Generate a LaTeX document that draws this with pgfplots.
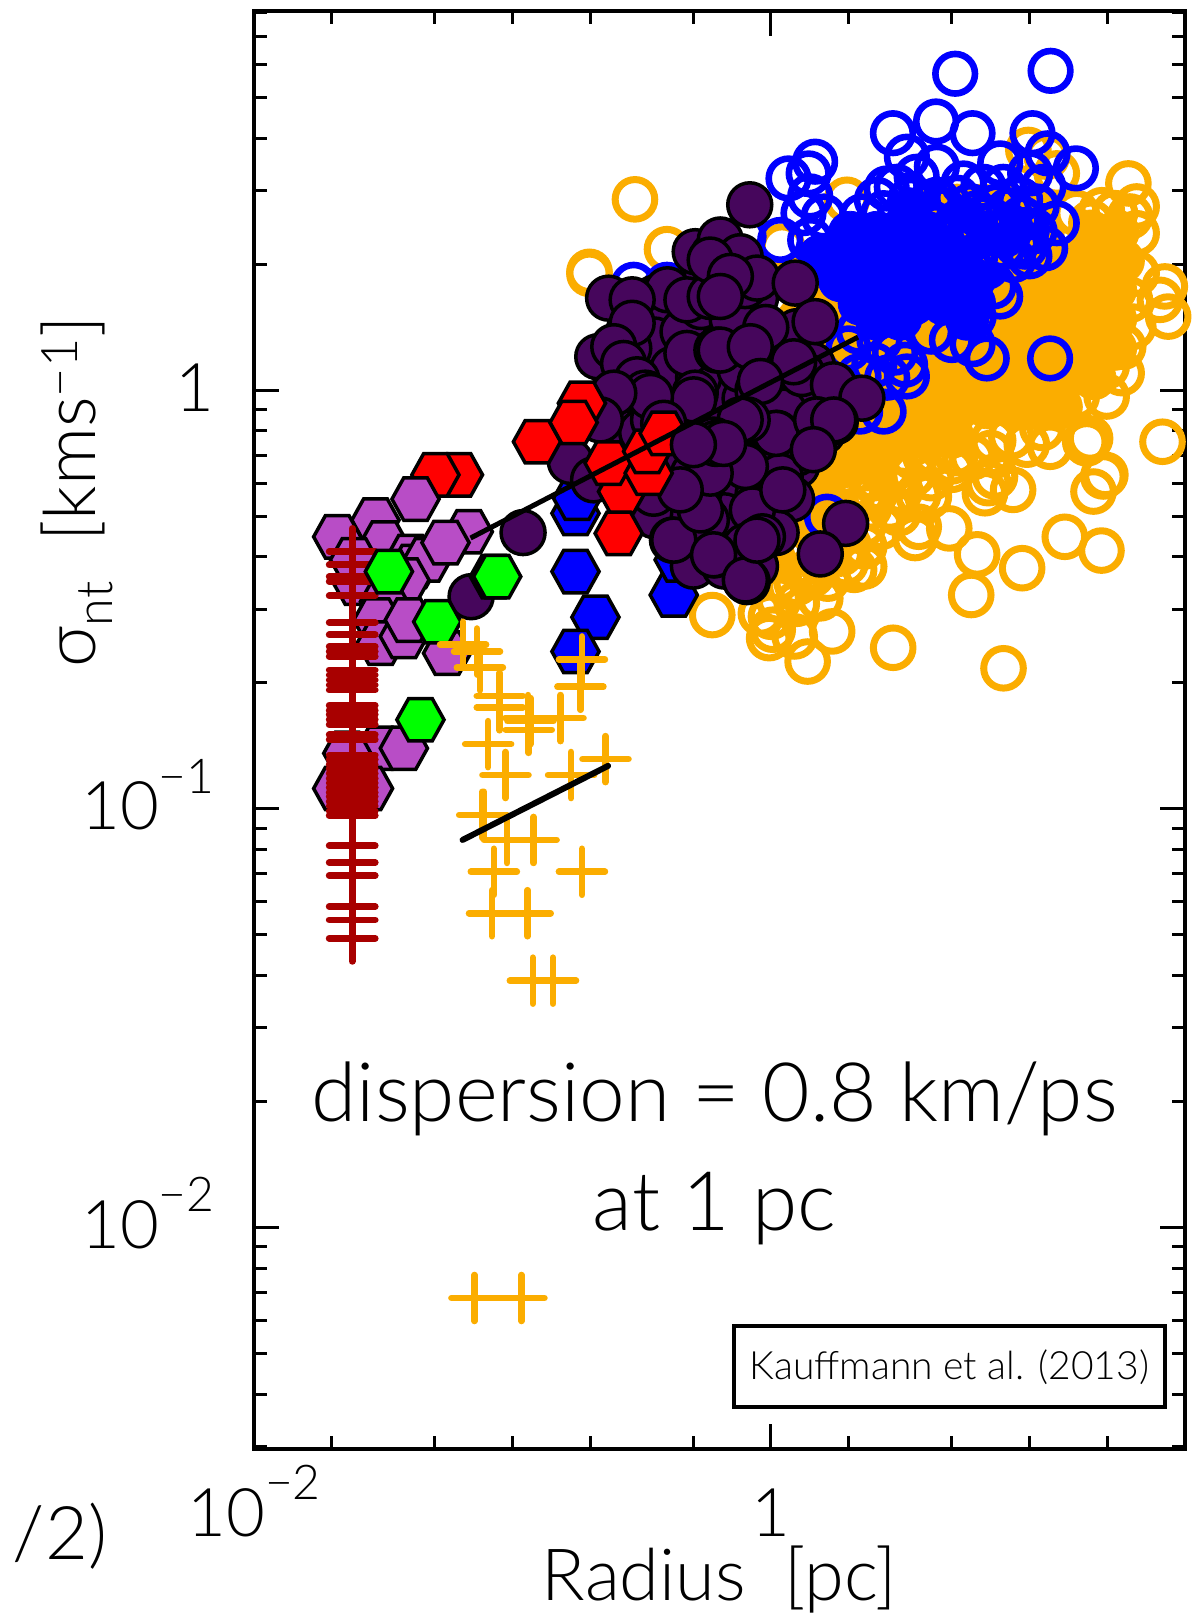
\documentclass[border=0pt]{standalone}
\usepackage{fontspec}
\usepackage{pgfplots}
\usepackage{pgfplotstable}
\pgfplotsset{compat=1.18}
\setmainfont{Lato}
\newfontfamily\lt{Lato Light}
\definecolor{orng}{HTML}{FBAD00}
\definecolor{dkp}{HTML}{46065C}
\definecolor{vio}{HTML}{B84DC6}
\definecolor{dkr}{HTML}{A80000}
\pgfdeclareplotmark{hex}{%
 \pgfpathmoveto{\pgfqpoint{11.8pt}{0pt}}%
 \pgfpathlineto{\pgfqpoint{5.9pt}{10.6pt}}%
 \pgfpathlineto{\pgfqpoint{-5.9pt}{10.6pt}}%
 \pgfpathlineto{\pgfqpoint{-11.8pt}{0pt}}%
 \pgfpathlineto{\pgfqpoint{-5.9pt}{-10.6pt}}%
 \pgfpathlineto{\pgfqpoint{5.9pt}{-10.6pt}}%
 \pgfpathclose\pgfusepathqfillstroke}
% all tables: log10(Radius/pc)  log10(sigma/(km/s))
\pgfplotstableread[row sep=\\]{lr ls\\
.62 .44\\.72 .44\\.82 .44\\.92 .44\\1.02 .44\\
.55 .378\\.65 .378\\.75 .378\\.85 .378\\.95 .378\\1.05 .378\\1.235 .378\\1.34 .378\\
.42 .309\\.53 .309\\.64 .309\\.75 .309\\.86 .309\\.97 .309\\1.08 .309\\1.19 .309\\1.30 .309\\1.36 .309\\
.23 .24\\.34 .24\\.45 .24\\.56 .24\\.67 .24\\.78 .24\\.89 .24\\1.00 .24\\1.11 .24\\1.22 .24\\1.33 .24\\
.11 .17\\.22 .17\\.33 .17\\.44 .17\\.55 .17\\.66 .17\\.77 .17\\.88 .17\\.99 .17\\1.10 .17\\1.21 .17\\1.33 .17\\
.17 .10\\.28 .10\\.39 .10\\.50 .10\\.61 .10\\.72 .10\\.83 .10\\.94 .10\\1.05 .10\\1.16 .10\\1.27 .10\\1.33 .10\\
.15 .03\\.26 .03\\.37 .03\\.48 .03\\.59 .03\\.70 .03\\.81 .03\\.92 .03\\1.03 .03\\1.14 .03\\1.25 .03\\
.07 -.04\\.18 -.04\\.29 -.04\\.40 -.04\\.51 -.04\\.62 -.04\\.73 -.04\\.84 -.04\\.95 -.04\\1.06 -.04\\1.12 -.04\\
.04 -.11\\.15 -.11\\.26 -.11\\.37 -.11\\.48 -.11\\.59 -.11\\.70 -.11\\
.07 -.18\\.18 -.18\\.29 -.18\\.40 -.18\\
0 -.25\\.11 -.25\\.20 -.25\\
0 -.32\\.09 -.32\\
0 -.39\\
}\orangecore
\pgfplotstableread[row sep=\\]{lr ls\\
-.526 .456\\-.402 .337\\-.702 .283\\-.702 .278\\
1.383 .494\\.996 .574\\1.067 .558\\1.106 .518\\.294 .455\\.043 .343\\1.331 .423\\1.415 .439\\1.389 .415\\1.415 .375\\1.183 .423\\1.28 .43\\1.24 .40\\
1.524 .248\\1.505 .216\\1.537 .176\\1.357 .041\\1.299 -.015\\1.235 -.115\\1.222 -.127\\1.080 -.135\\1.286 -.206\\1.389 .216\\1.415 .279\\1.402 .152\\1.363 .104\\1.299 .057\\1.183 -.015\\
1.515 -.123\\1.216 -.123\\1.294 -.202\\1.248 -.242\\1.137 -.350\\1.279 -.383\\.972 -.425\\.798 -.392\\.775 -.489\\.937 -.238\\.867 -.206\\.828 -.246\\.841 -.222\\.690 -.330\\.611 -.254\\.558 -.353\\.572 -.326\\.493 -.294\\.427 -.326\\.361 -.421\\.289 -.413\\.322 -.429\\.361 -.373\\.191 -.497\\.237 -.576\\.473 -.615\\.900 -.664\\.142 -.648\\0 -.541\\-.039 -.533\\-.007 -.592\\.007 -.572\\.092 -.588\\-.227 -.537\\.072 -.469\\.138 -.437\\.716 -.150\\.598 -.158\\.493 -.206\\.388 -.246\\.256 -.294\\
.86 -.12\\.93 -.11\\.99 -.13\\1.05 -.09\\
.55 -.16\\.63 -.15\\.70 -.17\\.78 -.16\\.85 -.15\\
.40 -.21\\.47 -.19\\.55 -.20\\.62 -.21\\.70 -.19\\
.25 -.24\\.32 -.23\\.40 -.25\\.50 -.24\\.57 -.25\\
.15 -.28\\.22 -.27\\.30 -.29\\.38 -.28\\.46 -.28\\
.12 -.32\\.20 -.33\\.28 -.31\\.36 -.32\\
.08 -.36\\.15 -.37\\.22 -.35\\.30 -.37\\
.05 -.40\\.12 -.41\\.20 -.40\\.27 -.39\\
.03 -.45\\.10 -.46\\.16 -.44\\.22 -.45\\
.03 -.50\\.10 -.51\\
}\orangering
\pgfplotstableread[row sep=\\]{lr ls\\
.539 .431\\
.307 .375\\.410 .375\\.513 .375\\.603 .375\\
.191 .319\\.294 .319\\.397 .319\\.500 .319\\.603 .319\\.706 .319\\
.268 .264\\.371 .264\\.474 .264\\.577 .264\\.680 .264\\.784 .264\\
.345 .208\\.448 .208\\.552 .208\\.668 .208\\.784 .208\\
.410 .172\\.500 .172\\.758 .172\\
}\bluecore
\pgfplotstableread[row sep=\\]{lr ls\\
.713 .756\\1.082 .763\\.639 .642\\.472 .614\\.780 .614\\1.012 .614\\1.070 .566\\1.180 .530\\.887 .542\\.171 .546\\.068 .506\\.146 .518\\.126 .423\\.152 .463\\.352 .415\\.448 .482\\.526 .558\\.642 .534\\1.003 .518\\1.054 .486\\1.106 .399\\1.061 .339\\.983 .343\\.835 .076\\1.080 .076\\.519 .061\\.526 .033\\.436 -.051\\.345 -.051\\.339 .033\\.887 .224\\.784 .176\\.036 .359\\-.106 .367\\.564 .510\\.745 .494\\.822 .486\\.899 .486\\.964 .455\\1.028 .439\\.874 .439\\.796 .423\\.925 .391\\.719 .399\\.642 .455\\.487 .486\\.539 .455\\.410 .455\\.436 .423\\.848 .375\\.771 .359\\.693 .327\\.990 .383\\.899 .343\\.938 .311\\.835 .295\\.745 .264\\.861 .248\\.204 .415\\.152 .359\\-.531 .252\\-.402 .252\\.217 -.302\\
.62 .40\\.67 .43\\.72 .46\\.77 .44\\.82 .41\\.87 .40\\.92 .43\\.97 .41\\1.02 .38\\.66 .36\\.72 .34\\.79 .32\\.85 .33\\.90 .37\\.95 .35\\1.00 .32\\.64 .39\\.58 .42\\.74 .38\\.80 .37\\.40 .06\\.45 .03\\.30 .10\\.48 .09\\.34 .14\\.42 .12\\.62 .14\\.70 .12\\.78 .11\\
}\bluering
\pgfplotstableread[row sep=\\]{lr ls\\
-.756 -.294\\-.750 -.258\\-.756 -.433\\-.679 -.542\\-.756 -.624\\-.376 -.489\\-.357 -.405\\
}\bluehex
\pgfplotstableread[row sep=\\]{lr ls\\
-.45 .22\\-.32 .22\\-.19 .22\\-.06 .22\\
-.55 .14\\-.42 .14\\-.29 .14\\-.16 .14\\-.03 .14\\.10 .14\\
-.62 .06\\-.49 .06\\-.36 .06\\-.23 .06\\-.10 .06\\.03 .06\\.16 .06\\
-.62 -.02\\-.49 -.02\\-.36 -.02\\-.23 -.02\\-.10 -.02\\.03 -.02\\.16 -.02\\.28 -.02\\
-.58 -.10\\-.45 -.10\\-.32 -.10\\-.19 -.10\\-.06 -.10\\.07 -.10\\.20 -.10\\
-.55 -.18\\-.42 -.18\\-.29 -.18\\-.16 -.18\\-.03 -.18\\.10 -.18\\
-.42 -.26\\-.29 -.26\\-.16 -.26\\-.03 -.26\\.08 -.26\\
-.35 -.34\\-.22 -.34\\-.09 -.34\\.02 -.34\\
-.30 -.42\\-.18 -.42\\-.06 -.42\\
-.42 .19\\-.45 .12\\-.38 .05\\-.34 .14\\-.27 .20\\-.28 .03\\-.15 .17\\-.12 .05\\-.30 -.10\\-.05 .00\\-.40 -.05\\-.35 -.15\\-.15 -.20\\-.30 -.20\\-.05 -.25\\.10 -.15\\.05 -.05\\.12 .04\\-.02 .15\\-.10 .25\\-.25 .28\\-.40 .24\\-.55 .10\\-.50 -.10\\-.45 -.30\\-.30 -.30\\-.18 -.30\\
-.293 .331\\-.222 .323\\-.628 .220\\-.537 .216\\-.537 .160\\-.325 .216\\-.235 .224\\-.670 .080\\-.608 .104\\-.570 .064\\-.518 .025\\-.486 -.007\\-.325 .088\\-.209 .096\\-.293 -.007\\-.196 -.135\\-.454 -.071\\
-.082 .443\\-.196 .359\\-.119 .319\\-.235 .311\\-.054 .268\\-.157 .272\\.094 .256\\-.196 .224\\.171 .164\\.088 .068\\-.196 .096\\-.080 .104\\-.041 .021\\.242 .013\\.352 -.019\\.178 -.071\\.249 -.075\\.023 -.103\\-.093 -.075\\-.183 -.135\\.165 -.135\\-.067 -.182\\.036 -.206\\
.289 -.318\\.191 -.391\\-.092 -.457\\-.217 -.393\\-.072 -.286\\-.276 -.238\\-.197 -.154\\-.099 -.182\\.046 -.238\\.020 -.103\\.177 -.071\\.243 -.071\\-.033 -.350\\-.250 -.310\\-.381 -.358\\-.099 -.373\\.164 -.142\\-.092 -.071\\
-.959 -.340\\-1.160 -.493\\-.776 -.170\\-.686 -.214\\-.376 -.358\\-.222 -.393\\-.099 -.453\\-.273 -.286\\-.299 -.023\\-.466 -.015\\-.415 -.079\\-.235 -.198\\-.454 -.246\\-.351 -.238\\-.608 -.007\\-.660 -.071\\-.119 -.071\\-.054 -.358\\
}\darkdisk
\pgfplotstableread[row sep=\\]{lr ls\\
-.222 -.119\\-.213 -.127\\-.183 -.127\\-.30 -.13\\
}\darktop
\pgfplotstableread[row sep=\\]{lr ls\\
-1.207 -.202\\-1.298 -.202\\-.905 -.123\\-.731 -.031\\-.763 -.077\\-.576 -.242\\-.628 -.174\\-.473 -.198\\-.479 -.146\\-.415 -.103\\-.589 -.342\\
}\redhex
\pgfplotstableread[row sep=\\]{lr ls\\
-1.478 -.433\\-1.072 -.445\\-1.059 -.445\\-1.291 -.553\\-1.356 -.787\\
}\greenhex
\pgfplotstableread[row sep=\\]{lr ls\\
-1.375 -.260\\-1.530 -.310\\-1.678 -.350\\-1.169 -.338\\-1.497 -.365\\-1.394 -.397\\-1.381 -.421\\-1.330 -.405\\-1.414 -.453\\-1.601 -.461\\-1.613 -.405\\-1.259 -.364\\-1.497 -.505\\-1.523 -.549\\-1.510 -.604\\-1.420 -.588\\-1.401 -.549\\-1.253 -.628\\
-1.510 -.855\\-1.420 -.855\\-1.639 -.867\\-1.678 -.951\\-1.555 -.951\\
}\violethex
\pgfplotstableread[row sep=\\]{lr ls\\
-1.62 -.385\\-1.62 -.417\\-1.62 -.445\\-1.62 -.457\\-1.62 -.491\\-1.62 -.555\\-1.62 -.584\\-1.62 -.612\\-1.62 -.624\\-1.62 -.636\\-1.62 -.668\\-1.62 -.680\\-1.62 -.692\\-1.62 -.704\\-1.62 -.716\\-1.62 -.752\\-1.62 -.764\\-1.62 -.775\\-1.62 -.787\\-1.62 -.799\\-1.62 -.823\\-1.62 -.835\\-1.62 -.871\\-1.62 -.882\\-1.62 -.893\\-1.62 -.904\\-1.62 -.915\\-1.62 -.927\\-1.62 -.938\\-1.62 -.949\\-1.62 -.960\\-1.62 -.971\\-1.62 -.982\\-1.62 -.993\\-1.62 -1.005\\-1.62 -1.016\\-1.62 -1.088\\-1.62 -1.128\\-1.62 -1.159\\-1.62 -1.233\\-1.62 -1.265\\-1.62 -1.309\\
}\redplus
\pgfplotstableread[row sep=\\]{lr ls\\
-1.191 -.608\\-1.137 -.624\\-1.126 -.662\\-1.049 -.730\\-1.049 -.757\\-.939 -.783\\-.930 -.790\\-.937 -.811\\-.814 -.783\\-1.094 -.845\\-.731 -.643\\-.737 -.708\\-.640 -.881\\-.773 -.919\\-1.027 -.919\\-1.117 -1.014\\-1.110 -1.014\\-1.021 -1.074\\-.918 -1.074\\-1.072 -1.150\\-.731 -1.150\\-1.079 -1.249\\-.941 -1.249\\-.921 -1.410\\-.843 -1.410\\-1.147 -2.168\\-.965 -2.168\\
}\orangeplus
\pgfplotstableread[row sep=\\]{lr ls\\-1.162 -.353\\.337 .127\\}\fitupper
\pgfplotstableread[row sep=\\]{lr ls\\-1.193 -1.074\\-.630 -.897\\}\fitlower
\pgfplotsset{table/lg/.style={x expr={10^\thisrow{lr}},y expr={10^\thisrow{ls}}}}
\newcommand\spr[1]{\raisebox{0.55em}{\fontsize{24}{24}\selectfont #1}}
\begin{document}
\begin{tikzpicture}[x=1pt,y=1pt]
\path[use as bounding box] (-127,-84) rectangle (469.5,724.5);
\begin{axis}[at={(0,0)},anchor=south west,scale only axis,width=465.5pt,height=719pt,
 xmode=log,ymode=log,xmin=0.01,xmax=40,ymin=0.00296,ymax=8.05,
 axis line style={line width=1.7pt},
 every tick/.style={black,line width=1.5pt},
 tick align=inside,major tick length=12.5pt,minor tick length=6.5pt,
 xtick={0.01,1},xticklabels={10\spr{−2},1},
 minor xtick={0.02,0.05,0.1,0.2,0.5,2,5,10,20},
 ytick={0.01,0.1,1},yticklabels={10\spr{−2},10\spr{−1},1},
 minor ytick={0.003,0.004,0.005,0.006,0.007,0.008,0.009,0.02,0.03,0.04,0.05,0.06,0.07,0.08,0.09,0.2,0.3,0.4,0.5,0.6,0.7,0.8,0.9,2,3,4,5,6,7,8},
 tick label style={font=\fontsize{33.5}{33.5}\selectfont\lt,inner sep=0pt},
 xticklabel style={anchor=base,yshift=-43.5pt},
 yticklabel style={anchor=base east,xshift=-19.5pt,yshift=-10.5pt},
 xlabel={Radius\ \ [pc]},ylabel={σ\textsubscript{nt}\ \ [kms\textsuperscript{−1}]},
 label style={font=\fontsize{36}{36}\selectfont\lt},
 xlabel style={at={(axis description cs:0.5,-0.091)},anchor=center},
 ylabel style={at={(axis description cs:-0.19,0.6655)},anchor=center},
 clip=true,clip mode=individual]
\addplot[only marks,mark=*,mark size=11pt,draw=orng,fill=orng,mark options={draw=orng,fill=orng}] table[lg]{\orangecore};
\addplot[only marks,mark=o,mark size=9.9pt,color=orng,line width=3.5pt] table[lg]{\orangering};
\addplot[only marks,mark=*,mark size=11pt,mark options={draw=blue,fill=blue}] table[lg]{\bluecore};
\addplot[only marks,mark=o,mark size=9.9pt,color=blue,line width=3.3pt] table[lg]{\bluering};
\addplot[only marks,mark=hex,mark options={draw=black,fill=blue,line width=1.75pt}] table[lg]{\bluehex};
\addplot[only marks,mark=*,mark size=11pt,mark options={draw=black,fill=dkp,line width=1.75pt}] table[lg]{\darkdisk};
\addplot[only marks,mark=hex,mark options={draw=black,fill=red,line width=1.75pt}] table[lg]{\redhex};
\addplot[only marks,mark=*,mark size=11pt,mark options={draw=black,fill=dkp,line width=1.75pt}] table[lg]{\darktop};
\addplot[only marks,mark=hex,mark options={draw=black,fill=vio,line width=1.75pt}] table[lg]{\violethex};
\addplot[only marks,mark=+,mark size=11.5pt,color=dkr,line width=3.4pt,mark options={line cap=round}] table[lg]{\redplus};
\addplot[only marks,mark=hex,mark options={draw=black,fill=green,line width=1.75pt}] table[lg]{\greenhex};
\addplot[only marks,mark=+,mark size=11.5pt,color=orng,line width=3.3pt,mark options={line cap=round}] table[lg]{\orangeplus};
\addplot[black,line width=2.5pt,no marks] table[lg]{\fitupper};
\addplot[black,line width=3pt,no marks,line cap=round] table[lg]{\fitlower};
\end{axis}
\node[font=\fontsize{41}{41}\selectfont\lt] at (230.3,175) {dispersion = 0.8 km/ps};
\node[font=\fontsize{41}{41}\selectfont\lt] at (230.3,120) {at 1 pc};
\draw[line width=2.4pt,fill=white] (240,61.5) rectangle (455.5,21);
\node[font=\fontsize{19.5}{19.5}\selectfont\lt] at (347.75,41) {Kauffmann et al. (2013)};
\node[font=\fontsize{37}{37}\selectfont\lt] at (-97,-43.5) {/2)};
\end{tikzpicture}
\end{document}
